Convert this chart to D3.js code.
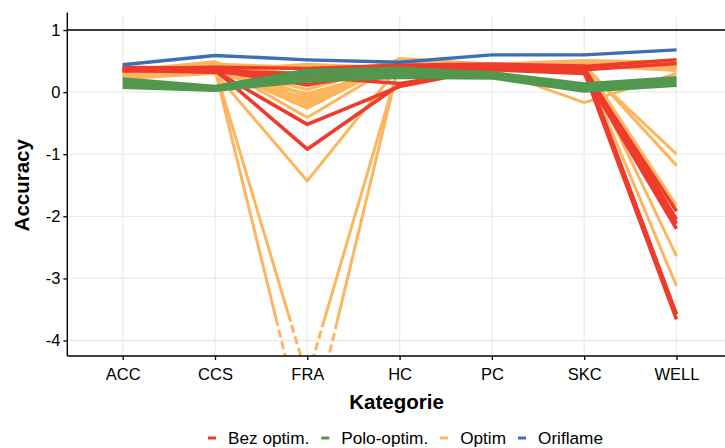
<!DOCTYPE html>
<html>
<head>
<meta charset="utf-8">
<script src="https://cdn.jsdelivr.net/npm/d3@7"></script>
<style>
  html, body { margin: 0; padding: 0; background: #fff; }
  svg { display: block; font-family: "Liberation Sans", Arial, sans-serif; }
</style>
</head>
<body>
<svg id="chart" width="725" height="448"></svg>
<script>
// Categories on the x axis
const categories = ["ACC", "CCS", "FRA", "HC", "PC", "SKC", "WELL"];
const yTicks = [1, 0, -1, -2, -3, -4];

// Accuracy per category, one row per model run
const bezOptim = [
  [0.39, 0.36, -0.92, 0.12, 0.40, 0.38, -2.05],
  [0.37, 0.34, -0.52, 0.09, 0.38, 0.35, -1.92],
  [0.40, 0.38, 0.22, 0.40, 0.43, 0.41, 0.52],
  [0.35, 0.32, 0.25, 0.14, 0.36, 0.30, -2.20],
  [0.38, 0.40, 0.38, 0.43, 0.45, 0.42, -3.58],
  [0.36, 0.33, 0.30, 0.38, 0.40, 0.33, -3.66],
  [0.34, 0.37, 0.20, 0.42, 0.41, 0.36, 0.46],
  [0.37, 0.35, 0.12, 0.36, 0.39, 0.39, -2.12]
];
const poloOptim = [
  [0.21, 0.09, 0.35, 0.38, 0.31, 0.13, 0.23],
  [0.17, 0.06, 0.30, 0.33, 0.28, 0.09, 0.19],
  [0.12, 0.04, 0.24, 0.28, 0.25, 0.05, 0.15],
  [0.08, 0.03, 0.18, 0.24, 0.23, 0.02, 0.11]
];
const optim = [
  [0.30, 0.36, -5.70, 0.50, 0.40, 0.45, 0.42],
  [0.28, 0.38, -4.60, 0.46, 0.38, 0.42, 0.46],
  [0.25, 0.31, -1.43, 0.42, 0.35, 0.40, -1.00],
  [0.32, 0.44, -0.41, 0.48, 0.42, 0.44, -1.18],
  [0.30, 0.40, -0.26, 0.50, 0.40, 0.45, -1.83],
  [0.34, 0.46, -0.22, 0.53, 0.44, 0.48, -2.64],
  [0.27, 0.36, -0.18, 0.45, 0.38, 0.42, -3.12],
  [0.33, 0.48, -0.14, 0.54, 0.45, 0.51, 0.48],
  [0.24, 0.32, -0.10, 0.41, 0.36, -0.17, 0.30],
  [0.35, 0.49, -0.06, 0.44, 0.40, 0.46, 0.40],
  [0.22, 0.30, -0.02, 0.38, 0.34, 0.40, 0.44],
  [0.31, 0.39, 0.04, 0.47, 0.41, 0.44, 0.46],
  [0.29, 0.42, 0.10, 0.43, 0.39, 0.47, 0.38],
  [0.26, 0.37, 0.18, 0.36, 0.37, 0.43, 0.35],
  [0.33, 0.43, 0.28, 0.49, 0.43, 0.50, 0.47],
  [0.36, 0.45, 0.40, 0.41, 0.42, 0.41, 0.43],
  [0.28, 0.34, 0.45, 0.39, 0.36, 0.39, 0.40]
];
const oriflame = [
  [0.44, 0.59, 0.52, 0.48, 0.60, 0.60, 0.68]
];

const groupNames = ["Bez optim.", "Polo-optim.", "Optim", "Oriflame"];
const groupColors = ["#EE3B2C", "#52974E", "#FDB55E", "#3C6FB6"];
const referenceLevel = 1;   // perfect accuracy line
const fadeBelow = -3.7;     // values below this are drawn dashed

const svg = d3.select("#chart");
const step = 92.3;
const x = d3.scalePoint().domain(categories).range([122.7, 122.7 + step * 6]);
const y = d3.scaleLinear().domain([-4.25, 1.25]).range([356, 14.5]);

const panelLeft = x(categories[0]) - 0.6 * step;
const panelRight = x(categories[categories.length - 1]) + 0.6 * step;
const panelTop = y(1.25), panelBottom = y(-4.25);

const defs = svg.append("defs");
defs.append("clipPath").attr("id", "clipSolid").append("rect")
  .attr("x", panelLeft).attr("y", panelTop).attr("width", panelRight - panelLeft)
  .attr("height", y(fadeBelow) - panelTop);
defs.append("clipPath").attr("id", "clipDash").append("rect")
  .attr("x", panelLeft).attr("y", y(fadeBelow)).attr("width", panelRight - panelLeft)
  .attr("height", panelBottom - y(fadeBelow));

// Grid
const grid = svg.append("g");
grid.selectAll("line.v").data(categories).join("line").attr("class", "v")
  .attr("x1", d => x(d)).attr("x2", d => x(d)).attr("y1", panelTop).attr("y2", panelBottom)
  .attr("stroke", "#EBEBEB").attr("stroke-width", 1.3);
grid.selectAll("line.h").data(yTicks).join("line").attr("class", "h")
  .attr("x1", panelLeft).attr("x2", panelRight).attr("y1", d => y(d)).attr("y2", d => y(d))
  .attr("stroke", "#EBEBEB").attr("stroke-width", 1.3);

// Reference line
svg.append("line")
  .attr("x1", panelLeft).attr("x2", panelRight)
  .attr("y1", y(referenceLevel)).attr("y2", y(referenceLevel))
  .attr("stroke", "#000").attr("stroke-width", 1.5);

// Lines
const line = d3.line().x((d, i) => x(categories[i])).y(d => y(d));
const groups = [bezOptim, poloOptim, optim, oriflame];
const drawOrder = [2, 0, 1, 3];
const widths = [3.6, 3.6, 3, 3.4];
const linesG = svg.append("g");
drawOrder.forEach(gi => {
  groups[gi].forEach(row => {
    linesG.append("path").attr("d", line(row))
      .attr("fill", "none").attr("stroke", groupColors[gi])
      .attr("stroke-width", widths[gi]).attr("stroke-linejoin", "round")
      .attr("clip-path", "url(#clipSolid)");
    linesG.append("path").attr("d", line(row))
      .attr("fill", "none").attr("stroke", groupColors[gi])
      .attr("stroke-width", widths[gi]).attr("stroke-dasharray", "8,4")
      .attr("clip-path", "url(#clipDash)");
  });
});

// Axes
const yAxis = svg.append("g").attr("transform", `translate(${panelLeft},0)`)
  .call(d3.axisLeft(y).tickValues(yTicks).tickSize(4).tickPadding(3).tickFormat(d => String(d)));
const xAxis = svg.append("g").attr("transform", `translate(0,${panelBottom})`)
  .call(d3.axisBottom(x).tickSize(4).tickPadding(8));
[yAxis, xAxis].forEach(a => {
  a.select(".domain").remove();
  a.selectAll(".tick line").attr("stroke", "#000").attr("stroke-width", 1.3);
  a.selectAll(".tick text").attr("fill", "#000").style("font-size", "16.5px")
    .style("font-family", "'Liberation Sans', Arial, sans-serif");
});
svg.append("line").attr("x1", panelLeft).attr("x2", panelLeft).attr("y1", panelTop - 2).attr("y2", panelBottom)
  .attr("stroke", "#000").attr("stroke-width", 1.4);
svg.append("line").attr("x1", panelLeft).attr("x2", panelRight).attr("y1", panelBottom).attr("y2", panelBottom)
  .attr("stroke", "#000").attr("stroke-width", 1.4);

// Axis titles
svg.append("text").attr("x", (panelLeft + panelRight) / 2 - 3).attr("y", 409)
  .attr("text-anchor", "middle").style("font-weight", "bold").style("font-size", "20.5px")
  .text("Kategorie");
svg.append("text").attr("transform", `translate(29,${(panelTop + panelBottom) / 2}) rotate(-90)`)
  .attr("text-anchor", "middle").style("font-weight", "bold").style("font-size", "20.5px")
  .text("Accuracy");

// Legend
const legend = svg.append("g");
const items = groupNames.map((name, i) => {
  const g = legend.append("g");
  g.append("line").attr("x1", 0).attr("x2", 8).attr("y1", 0).attr("y2", 0)
    .attr("stroke", groupColors[i]).attr("stroke-width", 3);
  const t = g.append("text").attr("x", 20).attr("y", 6).style("font-size", "17.2px").text(name);
  return { g, w: 20 + t.node().getComputedTextLength() };
});
const gap = 12;
const total = d3.sum(items, d => d.w) + gap * (items.length - 1);
let cx = 405.5 - total / 2;
items.forEach(it => { it.g.attr("transform", `translate(${cx},438)`); cx += it.w + gap; });
</script>
</body>
</html>
